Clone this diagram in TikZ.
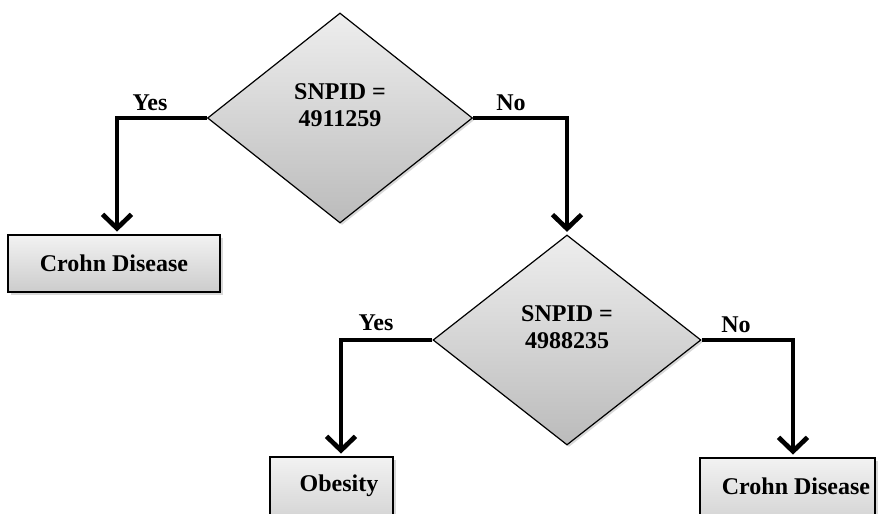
\documentclass[tikz,border=0pt]{standalone}
\usepackage{fontspec}
\setmainfont{Liberation Serif}
\usetikzlibrary{shapes.geometric,arrows.meta,shadows}
\definecolor{boxtop}{HTML}{F2F2F2}
\definecolor{boxbot}{HTML}{CCCCCC}
\definecolor{dtop}{HTML}{EEEEEE}
\definecolor{dbot}{HTML}{BBBBBB}
\tikzset{
  decision/.style={diamond, draw=black, line width=1.2pt, inner sep=0pt,
    minimum width=265pt, minimum height=210pt, top color=dtop, bottom color=dbot,
    drop shadow={shadow xshift=2pt, shadow yshift=-2pt, opacity=0.3}},
  leaf/.style={rectangle, draw=black, line width=1.8pt, inner sep=0pt,
    top color=boxtop, bottom color=boxbot,
    drop shadow={shadow xshift=3pt, shadow yshift=-3pt, opacity=0.3}},
  txt/.style={font=\bfseries\fontsize{24pt}{27.5pt}\selectfont, align=center, inner sep=0pt},
  conn/.style={line width=4.7pt, -{Straight Barb[length=14pt, width=29pt, line width=4.7pt]}, shorten >=2.5pt},
}
\begin{document}
\begin{tikzpicture}[x=1pt, y=-1pt]
\useasboundingbox (0,0) rectangle (881,514);
\clip (0,0) rectangle (881,514);
\fill[white] (0,0) rectangle (881,514);
% decisions
\node[decision] (d1) at (340,118) {};
\node[txt] (t1) at (340,105) {SNPID =\\4911259};
\node[decision, minimum width=268pt] (d2) at (567,340) {};
\node[txt] (t2) at (567,327) {SNPID =\\4988235};
% leaves
\node[leaf, minimum width=212pt, minimum height=57pt] (b1) at (114,263.5) {};
\node[txt] (l1) at (114,263.5) {Crohn Disease};
\node[leaf, minimum width=123pt, minimum height=80pt] (b2) at (331.5,497) {};
\node[txt] (l2) at (339,486) {Obesity};
\node[leaf, minimum width=175pt, minimum height=80pt] (b3) at (787.5,498) {};
\node[txt] (l3) at (796,486) {Crohn Disease};
% connectors
\coordinate (a1) at ([xshift=3pt]b1.north);
\coordinate (a2) at ([xshift=9.5pt]b2.north);
\coordinate (a3) at ([xshift=5.5pt]b3.north);
\draw[conn] (d1.west) -| (a1);
\draw[conn] (d1.east) -| (d2.north);
\draw[conn] (d2.west) -| (a2);
\draw[conn] (d2.east) -| (a3);
% labels
\node[txt] (y1) at (150,103) {Yes};
\node[txt] (n1) at (511,103) {No};
\node[txt] (y2) at (376,323) {Yes};
\node[txt] (n2) at (736,325) {No};
\end{tikzpicture}
\end{document}
